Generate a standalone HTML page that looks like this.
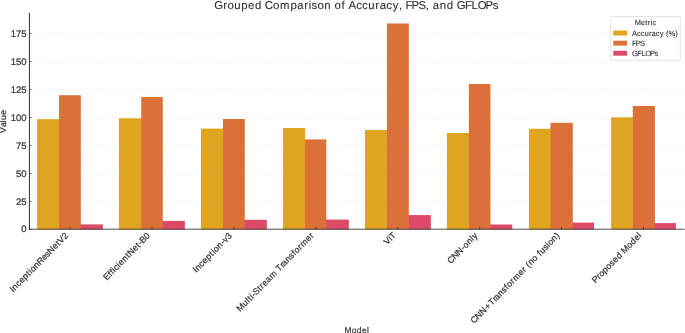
<!DOCTYPE html><html><head><meta charset="utf-8"><style>html,body{margin:0;padding:0;background:#fff;width:685px;height:333px;overflow:hidden}svg{display:block;will-change:transform}text{font-family:"Liberation Sans",sans-serif;fill:#333333;stroke:#333333;stroke-width:0.22px;text-rendering:geometricPrecision}</style></head><body>
<svg width="685" height="333" viewBox="0 0 685 333">
<rect x="37.15" y="119.20" width="21.85" height="110.30" fill="#DFA420"/>
<rect x="58.40" y="119.20" width="1.2" height="110.30" fill="#DFA420"/>
<rect x="59.00" y="95.20" width="21.80" height="134.30" fill="#DC7039"/>
<rect x="80.20" y="224.40" width="1.2" height="5.10" fill="#DC7039"/>
<rect x="80.80" y="224.40" width="22.05" height="5.10" fill="#DC4A68"/>
<rect x="118.94" y="118.30" width="22.26" height="111.20" fill="#DFA420"/>
<rect x="140.60" y="118.30" width="1.2" height="111.20" fill="#DFA420"/>
<rect x="141.20" y="97.00" width="21.60" height="132.50" fill="#DC7039"/>
<rect x="162.20" y="220.90" width="1.2" height="8.60" fill="#DC7039"/>
<rect x="162.80" y="220.90" width="22.05" height="8.60" fill="#DC4A68"/>
<rect x="200.94" y="128.60" width="22.06" height="100.90" fill="#DFA420"/>
<rect x="222.40" y="128.60" width="1.2" height="100.90" fill="#DFA420"/>
<rect x="223.00" y="119.00" width="21.80" height="110.50" fill="#DC7039"/>
<rect x="244.20" y="219.80" width="1.2" height="9.70" fill="#DC7039"/>
<rect x="244.80" y="219.80" width="22.05" height="9.70" fill="#DC4A68"/>
<rect x="282.94" y="128.00" width="22.06" height="101.50" fill="#DFA420"/>
<rect x="304.40" y="139.40" width="1.2" height="90.10" fill="#DFA420"/>
<rect x="305.00" y="139.40" width="21.25" height="90.10" fill="#DC7039"/>
<rect x="325.65" y="219.60" width="1.2" height="9.90" fill="#DC7039"/>
<rect x="326.25" y="219.60" width="22.60" height="9.90" fill="#DC4A68"/>
<rect x="364.94" y="130.10" width="21.96" height="99.40" fill="#DFA420"/>
<rect x="386.30" y="130.10" width="1.2" height="99.40" fill="#DFA420"/>
<rect x="386.90" y="23.45" width="21.90" height="206.05" fill="#DC7039"/>
<rect x="408.20" y="215.10" width="1.2" height="14.40" fill="#DC7039"/>
<rect x="408.80" y="215.10" width="22.05" height="14.40" fill="#DC4A68"/>
<rect x="446.94" y="133.00" width="21.96" height="96.50" fill="#DFA420"/>
<rect x="468.30" y="133.00" width="1.2" height="96.50" fill="#DFA420"/>
<rect x="468.90" y="84.00" width="21.55" height="145.50" fill="#DC7039"/>
<rect x="489.85" y="224.50" width="1.2" height="5.00" fill="#DC7039"/>
<rect x="490.45" y="224.50" width="21.85" height="5.00" fill="#DC4A68"/>
<rect x="528.94" y="128.80" width="21.56" height="100.70" fill="#DFA420"/>
<rect x="549.90" y="128.80" width="1.2" height="100.70" fill="#DFA420"/>
<rect x="550.50" y="122.80" width="22.30" height="106.70" fill="#DC7039"/>
<rect x="572.20" y="222.60" width="1.2" height="6.90" fill="#DC7039"/>
<rect x="572.80" y="222.60" width="21.20" height="6.90" fill="#DC4A68"/>
<rect x="611.10" y="117.40" width="21.70" height="112.10" fill="#DFA420"/>
<rect x="632.20" y="117.40" width="1.2" height="112.10" fill="#DFA420"/>
<rect x="632.80" y="106.00" width="22.10" height="123.50" fill="#DC7039"/>
<rect x="654.30" y="223.10" width="1.2" height="6.40" fill="#DC7039"/>
<rect x="654.90" y="223.10" width="21.00" height="6.40" fill="#DC4A68"/>
<line x1="29.10" y1="201.50" x2="684.50" y2="201.50" stroke="#999" stroke-opacity="0.14" stroke-width="0.7" stroke-dasharray="1.2,0.9"/>
<line x1="29.10" y1="173.50" x2="684.50" y2="173.50" stroke="#999" stroke-opacity="0.14" stroke-width="0.7" stroke-dasharray="1.2,0.9"/>
<line x1="29.10" y1="145.50" x2="684.50" y2="145.50" stroke="#999" stroke-opacity="0.14" stroke-width="0.7" stroke-dasharray="1.2,0.9"/>
<line x1="29.10" y1="117.50" x2="684.50" y2="117.50" stroke="#999" stroke-opacity="0.14" stroke-width="0.7" stroke-dasharray="1.2,0.9"/>
<line x1="29.10" y1="89.50" x2="684.50" y2="89.50" stroke="#999" stroke-opacity="0.14" stroke-width="0.7" stroke-dasharray="1.2,0.9"/>
<line x1="29.10" y1="61.50" x2="684.50" y2="61.50" stroke="#999" stroke-opacity="0.14" stroke-width="0.7" stroke-dasharray="1.2,0.9"/>
<line x1="29.10" y1="33.50" x2="684.50" y2="33.50" stroke="#999" stroke-opacity="0.14" stroke-width="0.7" stroke-dasharray="1.2,0.9"/>
<line x1="29.45" y1="12.75" x2="29.45" y2="229.70" stroke="#444" stroke-width="1.1"/>
<line x1="28.9" y1="229.20" x2="684.50" y2="229.20" stroke="#383838" stroke-width="0.9"/>
<line x1="29.45" y1="229.50" x2="31.65" y2="229.50" stroke="#333" stroke-width="0.6"/>
<text x="21.33" y="232.15" font-size="9.5">0</text>
<line x1="29.45" y1="201.50" x2="31.65" y2="201.50" stroke="#333" stroke-width="0.6"/>
<text x="16.08 21.33" y="204.75" font-size="9.5">25</text>
<line x1="29.45" y1="173.50" x2="31.65" y2="173.50" stroke="#333" stroke-width="0.6"/>
<text x="16.08 21.33" y="176.75" font-size="9.5">50</text>
<line x1="29.45" y1="145.50" x2="31.65" y2="145.50" stroke="#333" stroke-width="0.6"/>
<text x="16.08 21.33" y="148.75" font-size="9.5">75</text>
<line x1="29.45" y1="117.50" x2="31.65" y2="117.50" stroke="#333" stroke-width="0.6"/>
<text x="10.84 16.08 21.33" y="120.75" font-size="9.5">100</text>
<line x1="29.45" y1="89.50" x2="31.65" y2="89.50" stroke="#333" stroke-width="0.6"/>
<text x="10.84 16.08 21.33" y="92.75" font-size="9.5">125</text>
<line x1="29.45" y1="61.50" x2="31.65" y2="61.50" stroke="#333" stroke-width="0.6"/>
<text x="10.84 16.08 21.33" y="64.75" font-size="9.5">150</text>
<line x1="29.45" y1="33.50" x2="31.65" y2="33.50" stroke="#333" stroke-width="0.6"/>
<text x="10.84 16.08 21.33" y="36.75" font-size="9.5">175</text>
<line x1="70.10" y1="229.50" x2="70.10" y2="226.90" stroke="#333" stroke-width="0.8"/>
<text x="-9.72 -7.10 -1.97 2.59 7.75 13.20 16.20 18.42 23.56 28.31 34.44 39.00 43.27 49.62 54.98 57.73 63.66" y="236.00" font-size="8.7" transform="translate(68.70 236.00) scale(1 1.023) rotate(-45) translate(-68.70 -236.00)">InceptionResNetV2</text>
<line x1="152.01" y1="229.50" x2="152.01" y2="226.90" stroke="#333" stroke-width="0.8"/>
<text x="88.69 94.44 97.34 100.06 102.26 106.88 109.12 114.27 119.71 122.48 128.83 134.19 137.06 139.92 145.57" y="236.00" font-size="8.7" transform="translate(150.61 236.00) scale(1 1.023) rotate(-45) translate(-150.61 -236.00)">EfficientNet-B0</text>
<line x1="233.92" y1="229.50" x2="233.92" y2="226.90" stroke="#333" stroke-width="0.8"/>
<text x="181.33 183.95 189.07 193.64 198.79 204.24 207.24 209.46 214.60 219.67 222.88 227.48" y="236.00" font-size="8.7" transform="translate(232.52 236.00) scale(1 1.023) rotate(-45) translate(-232.52 -236.00)">Inception-v3</text>
<line x1="315.83" y1="229.50" x2="315.83" y2="226.90" stroke="#333" stroke-width="0.8"/>
<text x="209.25 216.62 221.84 224.36 227.36 229.52 232.17 238.10 241.17 244.44 249.32 254.66 262.41 264.79 270.21 272.25 277.40 282.40 286.97 289.74 294.93 298.47 306.08 311.29" y="236.00" font-size="8.7" transform="translate(314.43 236.00) scale(1 1.023) rotate(-45) translate(-314.43 -236.00)">Multi-Stream Transformer</text>
<line x1="397.74" y1="229.50" x2="397.74" y2="226.90" stroke="#333" stroke-width="0.8"/>
<text x="383.47 389.37 391.16" y="236.00" font-size="8.7" transform="translate(396.34 236.00) scale(1 1.023) rotate(-45) translate(-396.34 -236.00)">ViT</text>
<line x1="479.65" y1="229.50" x2="479.65" y2="226.90" stroke="#333" stroke-width="0.8"/>
<text x="439.30 445.27 451.44 457.71 460.75 466.04 471.26 473.63" y="236.00" font-size="8.7" transform="translate(478.25 236.00) scale(1 1.023) rotate(-45) translate(-478.25 -236.00)">CNN-only</text>
<line x1="561.56" y1="229.50" x2="561.56" y2="226.90" stroke="#333" stroke-width="0.8"/>
<text x="438.42 444.39 450.56 457.70 463.56 468.98 471.02 476.17 481.17 485.74 488.51 493.70 497.24 504.85 510.06 513.30 515.98 519.24 524.38 529.42 532.19 535.04 540.05 544.55 546.77 551.91 557.10" y="236.00" font-size="8.7" transform="translate(560.16 236.00) scale(1 1.023) rotate(-45) translate(-560.16 -236.00)">CNN+Transformer (no fusion)</text>
<line x1="643.47" y1="229.50" x2="643.47" y2="226.90" stroke="#333" stroke-width="0.8"/>
<text x="576.28 581.92 585.02 589.98 595.12 600.04 604.48 609.64 614.78 617.24 624.52 629.66 634.82 639.96" y="236.00" font-size="8.7" transform="translate(642.07 236.00) scale(1 1.023) rotate(-45) translate(-642.07 -236.00)">Proposed Model</text>
<text x="214.15 223.21 227.57 234.18 241.15 248.03 254.90 261.73 264.78 272.94 280.08 290.51 297.37 304.27 308.69 311.50 317.41 324.27 331.09 334.61 341.50 345.19 348.48 356.22 362.07 368.26 375.28 379.64 386.35 392.63 398.90 402.40 405.41 411.57 418.38 425.84 429.33 432.87 439.72 446.70 453.53 456.69 465.06 471.60 477.73 485.62 492.75" y="8.90" font-size="11.4" style="stroke-width:0.12px">Grouped Comparison of Accuracy, FPS, and GFLOPs</text>
<text x="344.48 351.72 356.86 362.02 367.11" y="332.60" font-size="8.4">Model</text>
<text x="-5.01 0.81 5.24 7.60 12.75" y="121.40" font-size="8.4" transform="translate(6.30 121.40) scale(1 1.023) rotate(-90) translate(-6.30 -121.40)">Value</text>
<rect x="610.60" y="16.50" width="69.80" height="43.70" rx="1.5" fill="#fff" fill-opacity="0.85" stroke="#d9d9d9" stroke-width="0.7"/>
<text x="634.70 640.80 645.29 647.85 650.63 652.45" y="25.00" font-size="7.4" style="stroke-width:0.1px">Metric</text>
<rect x="613.3" y="30.60" width="13.8" height="4.9" fill="#DFA420"/>
<text x="632.12 636.99 640.65 644.51 648.95 651.62 655.83 659.75 663.72 665.95 668.44 675.16" y="35.70" font-size="7.6" style="stroke-width:0.1px">Accuracy (%)</text>
<rect x="613.3" y="40.70" width="13.8" height="4.9" fill="#DC7039"/>
<text x="631.96 635.79 640.05" y="45.80" font-size="7.6" style="stroke-width:0.1px">FPS</text>
<rect x="613.3" y="50.80" width="13.8" height="4.9" fill="#DC4A68"/>
<text x="632.01 637.28 641.38 645.16 650.12 654.62" y="55.90" font-size="7.6" style="stroke-width:0.1px">GFLOPs</text>
</svg></body></html>
